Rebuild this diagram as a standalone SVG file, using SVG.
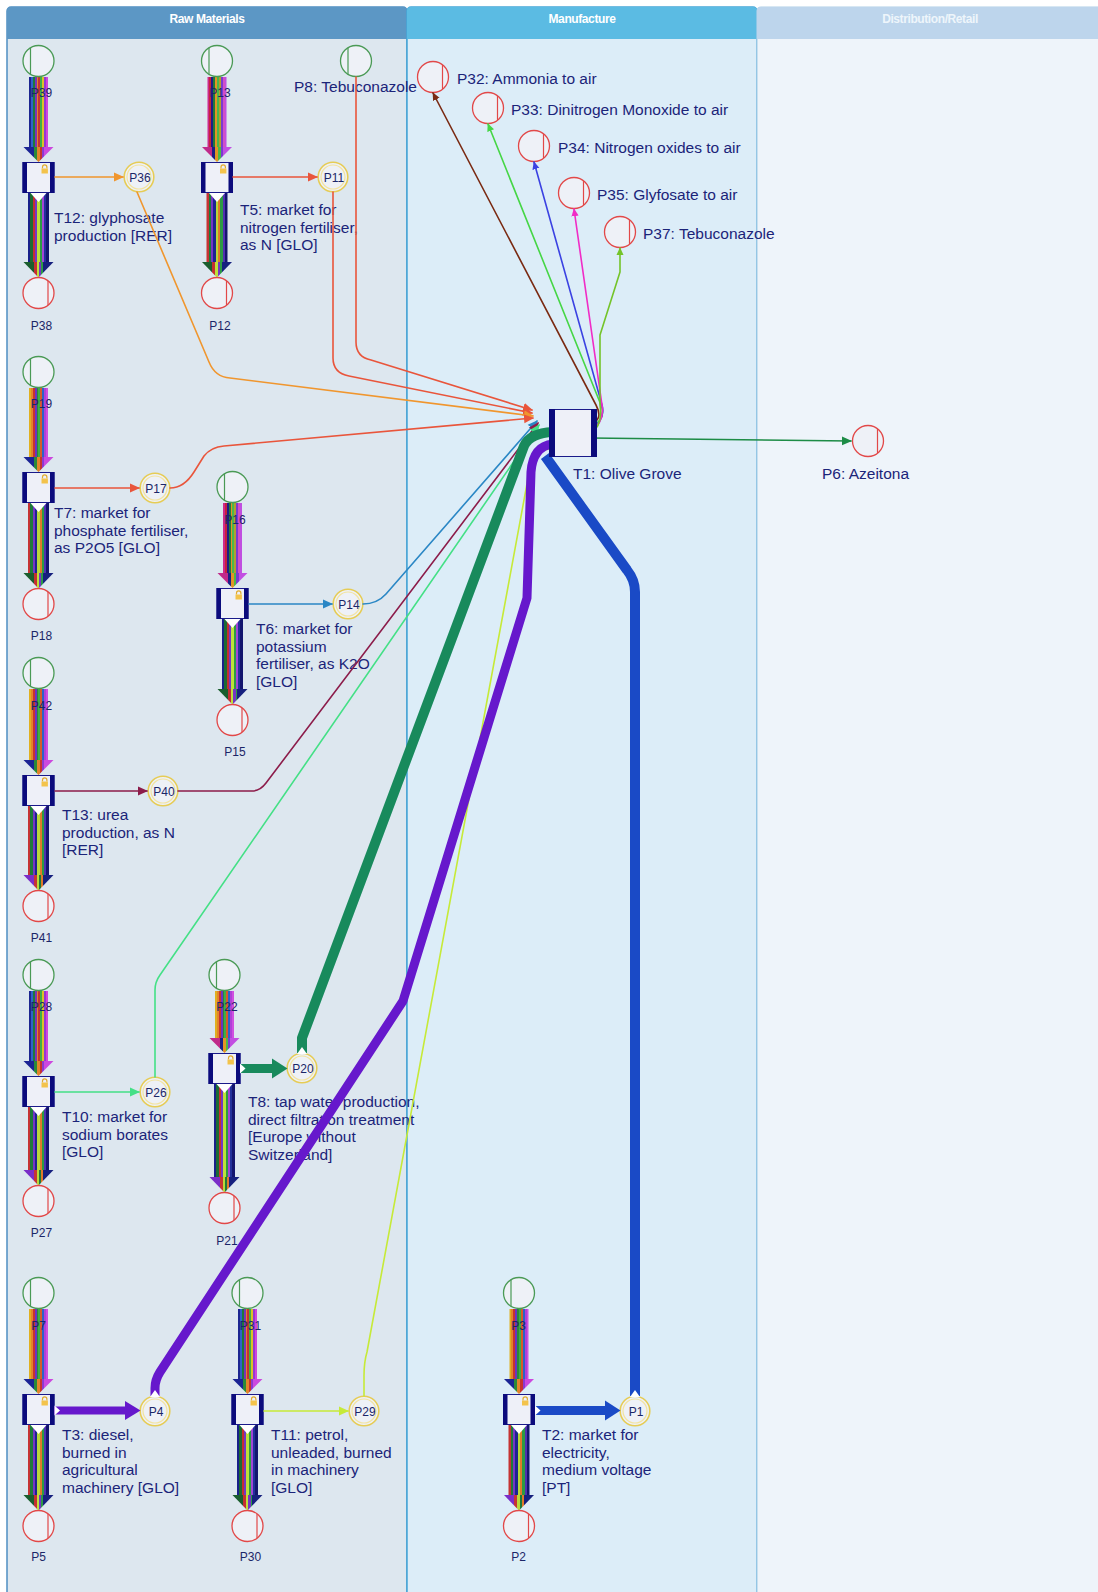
<svg xmlns="http://www.w3.org/2000/svg" width="1098" height="1592" viewBox="0 0 1098 1592">
<defs>
<style>
.hdr{font-family:"Liberation Sans",Arial,sans-serif;font-size:12px;font-weight:bold;fill:#fff;text-anchor:middle;letter-spacing:-0.4px}
.lbl{font-family:"Liberation Sans",Arial,sans-serif;font-size:15.5px;fill:#1b2479}
.pl{font-family:"Liberation Sans",Arial,sans-serif;font-size:12px;fill:#1b2668;text-anchor:middle}
.ln{fill:none;stroke-width:1.6;stroke-linejoin:round;stroke-linecap:round}
.thick{fill:none;stroke-linejoin:round}
</style>
<!-- elementary flow circles -->
<g id="pin"><circle r="15.5" fill="#eef1f7" stroke="#4a9a55" stroke-width="1.3"/><line x1="-8" y1="-13.2" x2="-8" y2="13.2" stroke="#4a9a55" stroke-width="1.2"/></g>
<g id="pout"><circle r="15.5" fill="#eef1f7" stroke="#e24848" stroke-width="1.3"/><line x1="9.5" y1="-12.2" x2="9.5" y2="12.2" stroke="#e24848" stroke-width="1.2"/></g>
<g id="pmid"><circle r="14.8" fill="#eef1f7" stroke="#e6cc55" stroke-width="1.6"/><circle r="12" fill="none" stroke="#f2e3a0" stroke-width="1.2"/></g>
<!-- transition box with lock -->
<g id="tbox"><rect x="0.5" y="0.5" width="31" height="30" fill="#eef0f8" stroke="#1a1a8a"/><rect width="4.5" height="31" fill="#0b0b7c"/><rect x="27.5" width="4.5" height="31" fill="#0b0b7c"/><path d="M20,6.5 v-1.5 a2.2,2.2 0 0 1 4.4,0 v1.5" fill="none" stroke="#e0ac30" stroke-width="1.2"/><rect x="19" y="6.5" width="6.4" height="5" fill="#f3c34c"/></g>
<!-- striped bundle fills -->
<linearGradient id="sInA"><stop offset="0" stop-color="#1c2590"/><stop offset=".1" stop-color="#1c2590"/><stop offset=".1" stop-color="#2d63c9"/><stop offset=".2" stop-color="#2d63c9"/><stop offset=".2" stop-color="#1d7a3c"/><stop offset=".3" stop-color="#1d7a3c"/><stop offset=".3" stop-color="#7b34b5"/><stop offset=".4" stop-color="#7b34b5"/><stop offset=".4" stop-color="#e2832a"/><stop offset=".5" stop-color="#e2832a"/><stop offset=".5" stop-color="#c8332f"/><stop offset=".6" stop-color="#c8332f"/><stop offset=".6" stop-color="#3fae46"/><stop offset=".7" stop-color="#3fae46"/><stop offset=".7" stop-color="#d9c22a"/><stop offset=".8" stop-color="#d9c22a"/><stop offset=".8" stop-color="#9537d3"/><stop offset=".9" stop-color="#9537d3"/><stop offset=".9" stop-color="#cf45dc"/><stop offset="1" stop-color="#cf45dc"/></linearGradient>
<linearGradient id="sInB"><stop offset="0" stop-color="#cc2a8c"/><stop offset=".1" stop-color="#cc2a8c"/><stop offset=".1" stop-color="#c6203e"/><stop offset=".2" stop-color="#c6203e"/><stop offset=".2" stop-color="#1c1f86"/><stop offset=".3" stop-color="#1c1f86"/><stop offset=".3" stop-color="#237a3a"/><stop offset=".4" stop-color="#237a3a"/><stop offset=".4" stop-color="#e39426"/><stop offset=".5" stop-color="#e39426"/><stop offset=".5" stop-color="#4bb84a"/><stop offset=".6" stop-color="#4bb84a"/><stop offset=".6" stop-color="#b0a030"/><stop offset=".7" stop-color="#b0a030"/><stop offset=".7" stop-color="#7b3ad0"/><stop offset=".8" stop-color="#7b3ad0"/><stop offset=".8" stop-color="#d24ec8"/><stop offset=".9" stop-color="#d24ec8"/><stop offset=".9" stop-color="#c04ee0"/><stop offset="1" stop-color="#c04ee0"/></linearGradient>
<linearGradient id="sInC"><stop offset="0" stop-color="#e0b020"/><stop offset=".1" stop-color="#e0b020"/><stop offset=".1" stop-color="#e2832a"/><stop offset=".2" stop-color="#e2832a"/><stop offset=".2" stop-color="#c8332f"/><stop offset=".3" stop-color="#c8332f"/><stop offset=".3" stop-color="#6a34c0"/><stop offset=".4" stop-color="#6a34c0"/><stop offset=".4" stop-color="#2a8a3a"/><stop offset=".5" stop-color="#2a8a3a"/><stop offset=".5" stop-color="#3fae46"/><stop offset=".6" stop-color="#3fae46"/><stop offset=".6" stop-color="#d95a2a"/><stop offset=".7" stop-color="#d95a2a"/><stop offset=".7" stop-color="#2d63c9"/><stop offset=".8" stop-color="#2d63c9"/><stop offset=".8" stop-color="#b040d8"/><stop offset=".9" stop-color="#b040d8"/><stop offset=".9" stop-color="#d050e0"/><stop offset="1" stop-color="#d050e0"/></linearGradient>
<linearGradient id="sOutA"><stop offset="0" stop-color="#19208a"/><stop offset=".11" stop-color="#19208a"/><stop offset=".11" stop-color="#1c6b34"/><stop offset=".22" stop-color="#1c6b34"/><stop offset=".22" stop-color="#c42f32"/><stop offset=".33" stop-color="#c42f32"/><stop offset=".33" stop-color="#7436c4"/><stop offset=".44" stop-color="#7436c4"/><stop offset=".44" stop-color="#bde13a"/><stop offset=".55" stop-color="#bde13a"/><stop offset=".55" stop-color="#2c9a44"/><stop offset=".66" stop-color="#2c9a44"/><stop offset=".66" stop-color="#a145d6"/><stop offset=".77" stop-color="#a145d6"/><stop offset=".77" stop-color="#22309a"/><stop offset=".88" stop-color="#22309a"/><stop offset=".88" stop-color="#13156e"/><stop offset="1" stop-color="#13156e"/></linearGradient>
<linearGradient id="sOutB"><stop offset="0" stop-color="#c63434"/><stop offset=".11" stop-color="#c63434"/><stop offset=".11" stop-color="#1e7a3a"/><stop offset=".22" stop-color="#1e7a3a"/><stop offset=".22" stop-color="#7436c4"/><stop offset=".33" stop-color="#7436c4"/><stop offset=".33" stop-color="#1c2590"/><stop offset=".44" stop-color="#1c2590"/><stop offset=".44" stop-color="#b8d83a"/><stop offset=".55" stop-color="#b8d83a"/><stop offset=".55" stop-color="#e07a2a"/><stop offset=".66" stop-color="#e07a2a"/><stop offset=".66" stop-color="#2c9a44"/><stop offset=".77" stop-color="#2c9a44"/><stop offset=".77" stop-color="#5030b0"/><stop offset=".88" stop-color="#5030b0"/><stop offset=".88" stop-color="#13156e"/><stop offset="1" stop-color="#13156e"/></linearGradient>
<linearGradient id="hInA"><stop offset="0" stop-color="#1b2494"/><stop offset=".34" stop-color="#1b2494"/><stop offset=".34" stop-color="#2a8a3a"/><stop offset=".44" stop-color="#2a8a3a"/><stop offset=".44" stop-color="#e2832a"/><stop offset=".54" stop-color="#e2832a"/><stop offset=".54" stop-color="#c8332f"/><stop offset=".62" stop-color="#c8332f"/><stop offset=".62" stop-color="#8a3ad0"/><stop offset=".7" stop-color="#8a3ad0"/><stop offset=".7" stop-color="#cc48de"/><stop offset="1" stop-color="#cc48de"/></linearGradient>
<linearGradient id="hInB"><stop offset="0" stop-color="#c02a8a"/><stop offset=".34" stop-color="#c02a8a"/><stop offset=".34" stop-color="#1c1f86"/><stop offset=".44" stop-color="#1c1f86"/><stop offset=".44" stop-color="#e39426"/><stop offset=".54" stop-color="#e39426"/><stop offset=".54" stop-color="#4bb84a"/><stop offset=".62" stop-color="#4bb84a"/><stop offset=".62" stop-color="#7b3ad0"/><stop offset=".7" stop-color="#7b3ad0"/><stop offset=".7" stop-color="#c24ee2"/><stop offset="1" stop-color="#c24ee2"/></linearGradient>
<linearGradient id="hOutA"><stop offset="0" stop-color="#1a5e2e"/><stop offset=".34" stop-color="#1a5e2e"/><stop offset=".34" stop-color="#c42f32"/><stop offset=".44" stop-color="#c42f32"/><stop offset=".44" stop-color="#bde13a"/><stop offset=".52" stop-color="#bde13a"/><stop offset=".52" stop-color="#7436c4"/><stop offset=".6" stop-color="#7436c4"/><stop offset=".6" stop-color="#2c9a44"/><stop offset=".66" stop-color="#2c9a44"/><stop offset=".66" stop-color="#16207e"/><stop offset="1" stop-color="#16207e"/></linearGradient>
<linearGradient id="hOutB"><stop offset="0" stop-color="#7a2ec8"/><stop offset=".34" stop-color="#7a2ec8"/><stop offset=".34" stop-color="#c63434"/><stop offset=".44" stop-color="#c63434"/><stop offset=".44" stop-color="#b8d83a"/><stop offset=".52" stop-color="#b8d83a"/><stop offset=".52" stop-color="#1e7a3a"/><stop offset=".6" stop-color="#1e7a3a"/><stop offset=".6" stop-color="#e07a2a"/><stop offset=".66" stop-color="#e07a2a"/><stop offset=".66" stop-color="#16207e"/><stop offset="1" stop-color="#16207e"/></linearGradient>
<!-- arrowheads -->
<marker id="m-or" markerUnits="userSpaceOnUse" markerWidth="10" markerHeight="10" viewBox="0 0 10 10" refX="9" refY="5" orient="auto"><path d="M0,0.5 L10,5 L0,9.5 z" fill="#f0962e"/></marker>
<marker id="m-rd" markerUnits="userSpaceOnUse" markerWidth="10" markerHeight="10" viewBox="0 0 10 10" refX="9" refY="5" orient="auto"><path d="M0,0.5 L10,5 L0,9.5 z" fill="#e9553b"/></marker>
<marker id="m-bl" markerUnits="userSpaceOnUse" markerWidth="10" markerHeight="10" viewBox="0 0 10 10" refX="9" refY="5" orient="auto"><path d="M0,0.5 L10,5 L0,9.5 z" fill="#2a87c5"/></marker>
<marker id="m-mr" markerUnits="userSpaceOnUse" markerWidth="10" markerHeight="10" viewBox="0 0 10 10" refX="9" refY="5" orient="auto"><path d="M0,0.5 L10,5 L0,9.5 z" fill="#8c1c4a"/></marker>
<marker id="m-mg" markerUnits="userSpaceOnUse" markerWidth="10" markerHeight="10" viewBox="0 0 10 10" refX="9" refY="5" orient="auto"><path d="M0,0.5 L10,5 L0,9.5 z" fill="#44e086"/></marker>
<marker id="m-yg" markerUnits="userSpaceOnUse" markerWidth="10" markerHeight="10" viewBox="0 0 10 10" refX="9" refY="5" orient="auto"><path d="M0,0.5 L10,5 L0,9.5 z" fill="#c6ea38"/></marker>
<marker id="m-dg" markerUnits="userSpaceOnUse" markerWidth="10" markerHeight="10" viewBox="0 0 10 10" refX="9" refY="5" orient="auto"><path d="M0,0.5 L10,5 L0,9.5 z" fill="#1d8c46"/></marker>
<marker id="m-br" markerUnits="userSpaceOnUse" markerWidth="8" markerHeight="8" viewBox="0 0 10 10" refX="9" refY="5" orient="auto"><path d="M0,0.5 L10,5 L0,9.5 z" fill="#7a2a12"/></marker>
<marker id="m-g2" markerUnits="userSpaceOnUse" markerWidth="8" markerHeight="8" viewBox="0 0 10 10" refX="9" refY="5" orient="auto"><path d="M0,0.5 L10,5 L0,9.5 z" fill="#46d646"/></marker>
<marker id="m-b2" markerUnits="userSpaceOnUse" markerWidth="8" markerHeight="8" viewBox="0 0 10 10" refX="9" refY="5" orient="auto"><path d="M0,0.5 L10,5 L0,9.5 z" fill="#3b42e2"/></marker>
<marker id="m-pk" markerUnits="userSpaceOnUse" markerWidth="8" markerHeight="8" viewBox="0 0 10 10" refX="9" refY="5" orient="auto"><path d="M0,0.5 L10,5 L0,9.5 z" fill="#f02cc6"/></marker>
<marker id="m-lm" markerUnits="userSpaceOnUse" markerWidth="8" markerHeight="8" viewBox="0 0 10 10" refX="9" refY="5" orient="auto"><path d="M0,0.5 L10,5 L0,9.5 z" fill="#74c42a"/></marker>
</defs>

<rect width="1098" height="1592" fill="#ffffff"/>

<!-- swimlanes -->
<g id="lanes">
  <g id="lane-raw">
    <rect x="7" y="7" width="400" height="1592" rx="4" fill="#dde7ef" stroke="#4f8fc2" stroke-width="1.5"/>
    <path d="M7,39 V11 Q7,7 11,7 H403 Q407,7 407,11 V39 Z" fill="#5c97c5"/>
    <text class="hdr" x="207" y="22.5">Raw Materials</text>
  </g>
  <g id="lane-manufacture">
    <rect x="407" y="7" width="350" height="1592" rx="4" fill="#dcedf8" stroke="#46a6d8" stroke-width="1.5"/>
    <path d="M407,39 V11 Q407,7 411,7 H753 Q757,7 757,11 V39 Z" fill="#5bbbe3"/>
    <text class="hdr" x="582" y="22.5">Manufacture</text>
  </g>
  <g id="lane-distribution">
    <rect x="757" y="7" width="345" height="1592" rx="4" fill="#eef4fa" stroke="#b0d0e8" stroke-width="1.2"/>
    <path d="M757,39 V11 Q757,7 761,7 H1098 V39 Z" fill="#bdd5ec"/>
    <text class="hdr" x="930" y="22.5" style="fill:#eef5fb">Distribution/Retail</text>
  </g>
</g>

<!-- transitions with their bundled exchange arrows -->
<g id="T12">
  <rect x="29" y="77" width="19" height="70" fill="url(#sInA)"/><polygon points="23.5,147 53.5,147 38.5,162" fill="url(#hInA)"/>
  <rect x="28" y="193" width="21" height="69" fill="url(#sOutA)"/><polygon points="23.5,262 53.5,262 38.5,277.5" fill="url(#hOutA)"/>
  <use href="#tbox" x="22.5" y="162"/><polygon points="30.5,193 46.5,193 38.5,202" fill="#fff"/>
  <text class="lbl" x="54" y="223"><tspan x="54">T12: glyphosate</tspan><tspan x="54" dy="17.5">production [RER]</tspan></text>
</g>
<g id="T5">
  <rect x="207.5" y="77" width="19" height="70" fill="url(#sInB)"/><polygon points="202,147 232,147 217,162" fill="url(#hInB)"/>
  <rect x="206.5" y="193" width="21" height="69" fill="url(#sOutB)"/><polygon points="202,262 232,262 217,277.5" fill="url(#hOutA)"/>
  <use href="#tbox" x="201" y="162"/><polygon points="209,193 225,193 217,202" fill="#fff"/>
  <text class="lbl" x="240" y="215"><tspan x="240">T5: market for</tspan><tspan x="240" dy="17.5">nitrogen fertiliser,</tspan><tspan x="240" dy="17.5">as N [GLO]</tspan></text>
</g>
<g id="T7">
  <rect x="29" y="388" width="19" height="69" fill="url(#sInC)"/><polygon points="23.5,457 53.5,457 38.5,472" fill="url(#hInA)"/>
  <rect x="28" y="503" width="21" height="70" fill="url(#sOutB)"/><polygon points="23.5,573 53.5,573 38.5,588.5" fill="url(#hOutA)"/>
  <use href="#tbox" x="22.5" y="472"/><polygon points="30.5,503 46.5,503 38.5,512" fill="#fff"/>
  <text class="lbl" x="54" y="518"><tspan x="54">T7: market for</tspan><tspan x="54" dy="17.5">phosphate fertiliser,</tspan><tspan x="54" dy="17.5">as P2O5 [GLO]</tspan></text>
</g>
<g id="T6">
  <rect x="223" y="503" width="19" height="70" fill="url(#sInB)"/><polygon points="217.5,573 247.5,573 232.5,588" fill="url(#hInB)"/>
  <rect x="222" y="619" width="21" height="70" fill="url(#sOutA)"/><polygon points="217.5,689 247.5,689 232.5,704.5" fill="url(#hOutA)"/>
  <use href="#tbox" x="216.5" y="588"/><polygon points="224.5,619 240.5,619 232.5,628" fill="#fff"/>
  <text class="lbl" x="256" y="634"><tspan x="256">T6: market for</tspan><tspan x="256" dy="17.5">potassium</tspan><tspan x="256" dy="17.5">fertiliser, as K2O</tspan><tspan x="256" dy="17.5">[GLO]</tspan></text>
</g>
<g id="T13">
  <rect x="29" y="689" width="19" height="71" fill="url(#sInC)"/><polygon points="23.5,760 53.5,760 38.5,775" fill="url(#hInA)"/>
  <rect x="28" y="806" width="21" height="69" fill="url(#sOutB)"/><polygon points="23.5,875 53.5,875 38.5,890.5" fill="url(#hOutB)"/>
  <use href="#tbox" x="22.5" y="775"/><polygon points="30.5,806 46.5,806 38.5,815" fill="#fff"/>
  <text class="lbl" x="62" y="820"><tspan x="62">T13: urea</tspan><tspan x="62" dy="17.5">production, as N</tspan><tspan x="62" dy="17.5">[RER]</tspan></text>
</g>
<g id="T10">
  <rect x="29" y="991" width="19" height="70" fill="url(#sInA)"/><polygon points="23.5,1061 53.5,1061 38.5,1076" fill="url(#hInA)"/>
  <rect x="28" y="1107" width="21" height="63" fill="url(#sOutB)"/><polygon points="23.5,1170 53.5,1170 38.5,1185.5" fill="url(#hOutB)"/>
  <use href="#tbox" x="22.5" y="1076"/><polygon points="30.5,1107 46.5,1107 38.5,1116" fill="#fff"/>
  <text class="lbl" x="62" y="1122"><tspan x="62">T10: market for</tspan><tspan x="62" dy="17.5">sodium borates</tspan><tspan x="62" dy="17.5">[GLO]</tspan></text>
</g>
<g id="T8">
  <rect x="215" y="991" width="19" height="47" fill="url(#sInC)"/><polygon points="209.5,1038 239.5,1038 224.5,1053" fill="url(#hInB)"/>
  <rect x="214" y="1084" width="21" height="93" fill="url(#sOutA)"/><polygon points="209.5,1177 239.5,1177 224.5,1192.5" fill="url(#hOutB)"/>
  <use href="#tbox" x="208.5" y="1053"/><polygon points="216.5,1084 232.5,1084 224.5,1093" fill="#fff"/>
  <text class="lbl" x="248" y="1107"><tspan x="248">T8: tap water production,</tspan><tspan x="248" dy="17.5">direct filtration treatment</tspan><tspan x="248" dy="17.5">[Europe without</tspan><tspan x="248" dy="17.5">Switzerland]</tspan></text>
</g>
<g id="T3">
  <rect x="29" y="1309" width="19" height="70" fill="url(#sInC)"/><polygon points="23.5,1379 53.5,1379 38.5,1394" fill="url(#hInA)"/>
  <rect x="28" y="1425" width="21" height="70" fill="url(#sOutB)"/><polygon points="23.5,1495 53.5,1495 38.5,1510.5" fill="url(#hOutA)"/>
  <use href="#tbox" x="22.5" y="1394"/><polygon points="30.5,1425 46.5,1425 38.5,1434" fill="#fff"/>
  <text class="lbl" x="62" y="1440"><tspan x="62">T3: diesel,</tspan><tspan x="62" dy="17.5">burned in</tspan><tspan x="62" dy="17.5">agricultural</tspan><tspan x="62" dy="17.5">machinery [GLO]</tspan></text>
</g>
<g id="T11">
  <rect x="238" y="1309" width="19" height="70" fill="url(#sInA)"/><polygon points="232.5,1379 262.5,1379 247.5,1394" fill="url(#hInA)"/>
  <rect x="237" y="1425" width="21" height="70" fill="url(#sOutA)"/><polygon points="232.5,1495 262.5,1495 247.5,1510.5" fill="url(#hOutA)"/>
  <use href="#tbox" x="231.5" y="1394"/><polygon points="239.5,1425 255.5,1425 247.5,1434" fill="#fff"/>
  <text class="lbl" x="271" y="1440"><tspan x="271">T11: petrol,</tspan><tspan x="271" dy="17.5">unleaded, burned</tspan><tspan x="271" dy="17.5">in machinery</tspan><tspan x="271" dy="17.5">[GLO]</tspan></text>
</g>
<g id="T2">
  <rect x="509.5" y="1309" width="19" height="70" fill="url(#sInC)"/><polygon points="504,1379 534,1379 519,1394" fill="url(#hInA)"/>
  <rect x="508.5" y="1425" width="21" height="70" fill="url(#sOutB)"/><polygon points="504,1495 534,1495 519,1510.5" fill="url(#hOutB)"/>
  <use href="#tbox" x="503" y="1394"/><polygon points="511,1425 527,1425 519,1434" fill="#fff"/>
  <text class="lbl" x="542" y="1440"><tspan x="542">T2: market for</tspan><tspan x="542" dy="17.5">electricity,</tspan><tspan x="542" dy="17.5">medium voltage</tspan><tspan x="542" dy="17.5">[PT]</tspan></text>
</g>

<!-- input flows -->
<g id="P39"><use href="#pin" x="38.5" y="61"/><text class="pl" x="41.5" y="97">P39</text></g>
<g id="P13"><use href="#pin" x="217" y="61"/><text class="pl" x="220" y="97">P13</text></g>
<g id="P8"><use href="#pin" x="356" y="61"/><text class="lbl" x="294" y="92">P8: Tebuconazole</text></g>
<g id="P19"><use href="#pin" x="38.5" y="372"/><text class="pl" x="41.5" y="408">P19</text></g>
<g id="P16"><use href="#pin" x="232.5" y="487"/><text class="pl" x="235" y="523.5">P16</text></g>
<g id="P42"><use href="#pin" x="38.5" y="673"/><text class="pl" x="41.5" y="710">P42</text></g>
<g id="P28"><use href="#pin" x="38.5" y="975"/><text class="pl" x="41.5" y="1011">P28</text></g>
<g id="P22"><use href="#pin" x="224.5" y="975"/><text class="pl" x="227" y="1011">P22</text></g>
<g id="P7"><use href="#pin" x="38.5" y="1293"/><text class="pl" x="38.5" y="1329.5">P7</text></g>
<g id="P31"><use href="#pin" x="247.5" y="1293"/><text class="pl" x="250.5" y="1329.5">P31</text></g>
<g id="P3"><use href="#pin" x="519" y="1293"/><text class="pl" x="518.5" y="1329.5">P3</text></g>

<!-- output flows -->
<g id="P38"><use href="#pout" x="38.5" y="293"/><text class="pl" x="41.5" y="329.5">P38</text></g>
<g id="P12"><use href="#pout" x="217" y="293"/><text class="pl" x="220" y="329.5">P12</text></g>
<g id="P18"><use href="#pout" x="38.5" y="604"/><text class="pl" x="41.5" y="640">P18</text></g>
<g id="P15"><use href="#pout" x="232.5" y="720"/><text class="pl" x="235" y="756">P15</text></g>
<g id="P41"><use href="#pout" x="38.5" y="906"/><text class="pl" x="41.5" y="942">P41</text></g>
<g id="P27"><use href="#pout" x="38.5" y="1201"/><text class="pl" x="41.5" y="1236.5">P27</text></g>
<g id="P21"><use href="#pout" x="224.5" y="1208"/><text class="pl" x="227" y="1244.5">P21</text></g>
<g id="P5"><use href="#pout" x="38.5" y="1526"/><text class="pl" x="38.5" y="1561">P5</text></g>
<g id="P30"><use href="#pout" x="247.5" y="1526"/><text class="pl" x="250.5" y="1561">P30</text></g>
<g id="P2"><use href="#pout" x="519" y="1526"/><text class="pl" x="518.5" y="1561">P2</text></g>
<g id="P6"><use href="#pout" x="868" y="441"/><text class="lbl" x="822" y="479">P6: Azeitona</text></g>
<g id="P32"><use href="#pout" x="433" y="77"/><text class="lbl" x="457" y="84">P32: Ammonia to air</text></g>
<g id="P33"><use href="#pout" x="488" y="108"/><text class="lbl" x="511" y="114.5">P33: Dinitrogen Monoxide to air</text></g>
<g id="P34"><use href="#pout" x="534" y="146"/><text class="lbl" x="558" y="152.7">P34: Nitrogen oxides to air</text></g>
<g id="P35"><use href="#pout" x="574" y="193"/><text class="lbl" x="597" y="199.5">P35: Glyfosate to air</text></g>
<g id="P37"><use href="#pout" x="620" y="232"/><text class="lbl" x="643" y="238.7">P37: Tebuconazole</text></g>

<!-- intermediate products -->
<g id="P36"><use href="#pmid" x="139" y="177"/><text class="pl" x="140" y="181.5">P36</text></g>
<g id="P11"><use href="#pmid" x="333" y="177"/><text class="pl" x="334" y="181.5">P11</text></g>
<g id="P17"><use href="#pmid" x="155" y="488"/><text class="pl" x="156" y="492.5">P17</text></g>
<g id="P14"><use href="#pmid" x="348" y="604"/><text class="pl" x="349" y="608.5">P14</text></g>
<g id="P40"><use href="#pmid" x="163" y="791"/><text class="pl" x="164" y="795.5">P40</text></g>
<g id="P26"><use href="#pmid" x="155" y="1092"/><text class="pl" x="156" y="1096.5">P26</text></g>
<g id="P20"><use href="#pmid" x="302" y="1068"/><text class="pl" x="303" y="1072.5">P20</text></g>
<g id="P4"><use href="#pmid" x="155" y="1411"/><text class="pl" x="156" y="1415.5">P4</text></g>
<g id="P29"><use href="#pmid" x="364" y="1411"/><text class="pl" x="365" y="1415.5">P29</text></g>
<g id="P1"><use href="#pmid" x="635" y="1411"/><text class="pl" x="636" y="1415.5">P1</text></g>

<!-- flows between processes -->
<g id="connectors">
  <!-- transition to product -->
  <path class="ln" d="M55,177 H123" stroke="#f0962e" marker-end="url(#m-or)"/>
  <path class="ln" d="M233,177 H317" stroke="#e9553b" marker-end="url(#m-rd)"/>
  <path class="ln" d="M55,488 H139" stroke="#e9553b" marker-end="url(#m-rd)"/>
  <path class="ln" d="M249,604 H332" stroke="#2a87c5" marker-end="url(#m-bl)"/>
  <path class="ln" d="M55,791 H147" stroke="#8c1c4a" marker-end="url(#m-mr)"/>
  <path class="ln" d="M55,1092 H139" stroke="#44e086" marker-end="url(#m-mg)"/>
  <path class="ln" d="M264,1411 H348" stroke="#c6ea38" marker-end="url(#m-yg)"/>
  <path class="thick" d="M240,1068.5 H273" stroke="#188a5c" stroke-width="9"/><polygon points="272,1058.5 287.5,1068.5 272,1078.5" fill="#188a5c"/>
  <path class="thick" d="M54,1410.5 H126" stroke="#6618cc" stroke-width="8"/><polygon points="125,1401 140.5,1410.5 125,1420" fill="#6618cc"/>
  <path class="thick" d="M535,1410.5 H606" stroke="#1a4ac6" stroke-width="9"/><polygon points="605,1400.5 620.5,1410.5 605,1420.5" fill="#1a4ac6"/>
  <polygon points="240,1063.5 245.5,1068.5 240,1073.5" fill="#fff"/>
  <polygon points="54.5,1405.5 60,1410.5 54.5,1415.5" fill="#fff"/>
  <polygon points="535,1405.5 540.5,1410.5 535,1415.5" fill="#fff"/>

  <!-- products into the olive grove -->
  <path class="ln" d="M356,77 V342 Q356,357 371,360 L532,410" stroke="#e9553b" marker-end="url(#m-rd)"/>
  <path class="ln" d="M333,192 V358 Q333,373 349,376 L532,413" stroke="#e9553b" marker-end="url(#m-rd)"/>
  <path class="ln" d="M137,192 L209,362 Q215,377 230,378 L533,416" stroke="#f0962e" marker-end="url(#m-or)"/>
  <path class="ln" d="M170,488 Q184,488 194,472 L204,456 Q211,447 224,446 L533,418" stroke="#e9553b" marker-end="url(#m-rd)"/>
  <path class="ln" d="M363,604 Q377,604 386,594 L537,421" stroke="#2a87c5" marker-end="url(#m-bl)"/>
  <path class="ln" d="M178,791 H252 Q260,791 266,783 L538,423" stroke="#8c1c4a" marker-end="url(#m-mr)"/>
  <path class="ln" d="M155,1077 V990 Q155,982 160,975 L539,425" stroke="#44e086" marker-end="url(#m-mg)"/>
  <path class="ln" d="M364,1396 V1376 Q364,1362 367,1352 L531,462 Q534,451 550,449" stroke="#c6ea38"/>
  <path class="thick" d="M302,1053 V1038 L524,446 Q530,433 553,432" stroke="#188a5c" stroke-width="10"/>
  <path class="thick" d="M155,1396 V1388 Q155,1380 160,1372 L403,1001 L527,598 L531,472 Q533,446 553,444" stroke="#6618cc" stroke-width="9"/>
  <path class="thick" d="M635,1396 V592 Q635,580 627,570 L545,456" stroke="#1a4ac6" stroke-width="10"/>
  <polygon points="297,1054 307,1054 302,1047" fill="#fff"/>
  <polygon points="150,1397 160,1397 155,1390" fill="#fff"/>
  <polygon points="630,1397 640,1397 635,1390" fill="#fff"/>

  <!-- olive grove emissions and product -->
  <path class="ln" d="M590,424 Q604,420 596,405 L433,93" stroke="#7a2a12" marker-end="url(#m-br)"/>
  <path class="ln" d="M590,427 Q607,420 601,405 L488,124" stroke="#46d646" marker-end="url(#m-g2)"/>
  <path class="ln" d="M590,430 Q606,420 602,405 L534,162" stroke="#3b42e2" marker-end="url(#m-b2)"/>
  <path class="ln" d="M590,432 Q605,422 602,405 L574,209" stroke="#f02cc6" marker-end="url(#m-pk)"/>
  <path class="ln" d="M590,434 Q603,426 600,405 V335 L620,272 V248" stroke="#74c42a" marker-end="url(#m-lm)"/>
  <path class="ln" d="M590,438 L851,441" stroke="#1d8c46" marker-end="url(#m-dg)"/>
</g>

<!-- central process -->
<g id="T1">
  <rect x="549.5" y="409.5" width="47" height="47" fill="#eef0f8" stroke="#1a1a8a"/>
  <rect x="549" y="409" width="6" height="48" fill="#0b0b7c"/>
  <rect x="591" y="409" width="6" height="48" fill="#0b0b7c"/>
  <text class="lbl" x="573" y="479">T1: Olive Grove</text>
</g>
</svg>
